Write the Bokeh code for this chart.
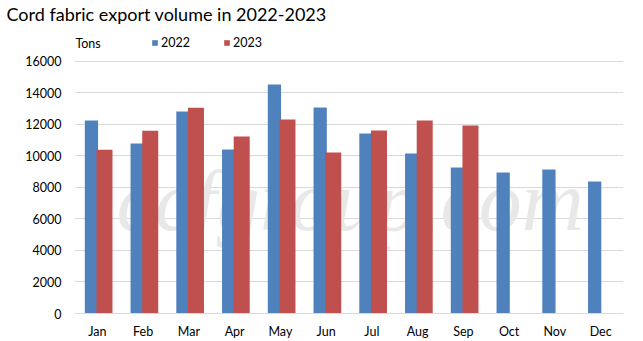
from bokeh.plotting import figure
from bokeh.models import ColumnDataSource, Range1d, FixedTicker, Label, Legend, LegendItem, Title
from bokeh.transform import dodge
from bokeh.embed import file_html
from bokeh.resources import INLINE

months = ["Jan", "Feb", "Mar", "Apr", "May", "Jun", "Jul", "Aug", "Sep", "Oct", "Nov", "Dec"]
v2022 = [12250, 10800, 12830, 10410, 14540, 13080, 11430, 10160, 9270, 8950, 9140, 8380]
v2023 = [10400, 11600, 13060, 11240, 12320, 10220, 11620, 12250, 11940]
y_ticks = [0, 2000, 4000, 6000, 8000, 10000, 12000, 14000, 16000]

FONT = "Lato"
BLUE = "#4F81BD"
RED = "#C0504D"

src22 = ColumnDataSource(dict(x=[i + 0.5 for i in range(len(v2022))], y=v2022))
src23 = ColumnDataSource(dict(x=[i + 0.5 for i in range(len(v2023))], y=v2023))

title = Title(text="Cord fabric export volume in 2022-2023", align="left", offset=-68,
              text_font=FONT, text_font_size="18px", text_font_style="normal",
              text_color="#000000", standoff=0)

p = figure(width=643, height=341, output_backend="svg", toolbar_location=None,
           x_range=Range1d(0, 12), y_range=Range1d(0, 18349), title=title,
           min_border_left=74, min_border_right=20, min_border_top=0, min_border_bottom=28)
p.outline_line_color = None
p.background_fill_color = "white"
p.border_fill_color = "white"

wm = Label(x=116, y=200, x_units="canvas", y_units="canvas", text="ccfgroup.com",
           text_font="Liberation Serif", text_font_style="italic", text_font_size="86px",
           text_color="#E8E8E8", text_baseline="alphabetic", level="underlay")
p.add_layout(wm)

r1 = p.vbar(x=dodge("x", -0.13, range=None), top="y", width=0.29, source=src22,
            fill_color=BLUE, line_color=None)
r2 = p.vbar(x=dodge("x", 0.155, range=None), top="y", width=0.35, source=src23,
            fill_color=RED, line_color=None)

p.xgrid.visible = False
p.ygrid.grid_line_color = "#D9D9D9"
p.ygrid.ticker = FixedTicker(ticks=y_ticks)

p.yaxis.ticker = FixedTicker(ticks=y_ticks)
p.yaxis.axis_line_color = None
p.yaxis.major_tick_line_color = None
p.yaxis.minor_tick_line_color = None
p.yaxis.major_label_standoff = 7
p.yaxis.major_label_text_font = FONT
p.yaxis.major_label_text_font_size = "12.5px"
p.yaxis.major_label_text_color = "#000000"

p.xaxis.ticker = FixedTicker(ticks=[i + 0.5 for i in range(12)])
p.xaxis.major_label_overrides = {i + 0.5: m for i, m in enumerate(months)}
p.xaxis.axis_line_color = "#D9D9D9"
p.xaxis.major_tick_line_color = None
p.xaxis.minor_tick_line_color = None
p.xaxis.major_label_standoff = 4
p.xaxis.major_label_text_font = FONT
p.xaxis.major_label_text_font_size = "12.5px"
p.xaxis.major_label_text_color = "#000000"

tons = Label(x=0.02, y=17140, text="Tons",
             text_font=FONT, text_font_size="12.5px", text_color="#000000", text_baseline="middle")
p.add_layout(tons)

legend = Legend(items=[LegendItem(label="2022", renderers=[r1]), LegendItem(label="2023", renderers=[r2])],
                orientation="horizontal", location=(77, 263), glyph_width=7, glyph_height=7,
                label_height=14, label_standoff=3, spacing=33, padding=0, margin=0,
                background_fill_alpha=0, border_line_color=None,
                label_text_font=FONT, label_text_font_size="12.5px", label_text_color="#000000")
p.add_layout(legend)

open("out.html", "w").write(file_html(p, INLINE))
